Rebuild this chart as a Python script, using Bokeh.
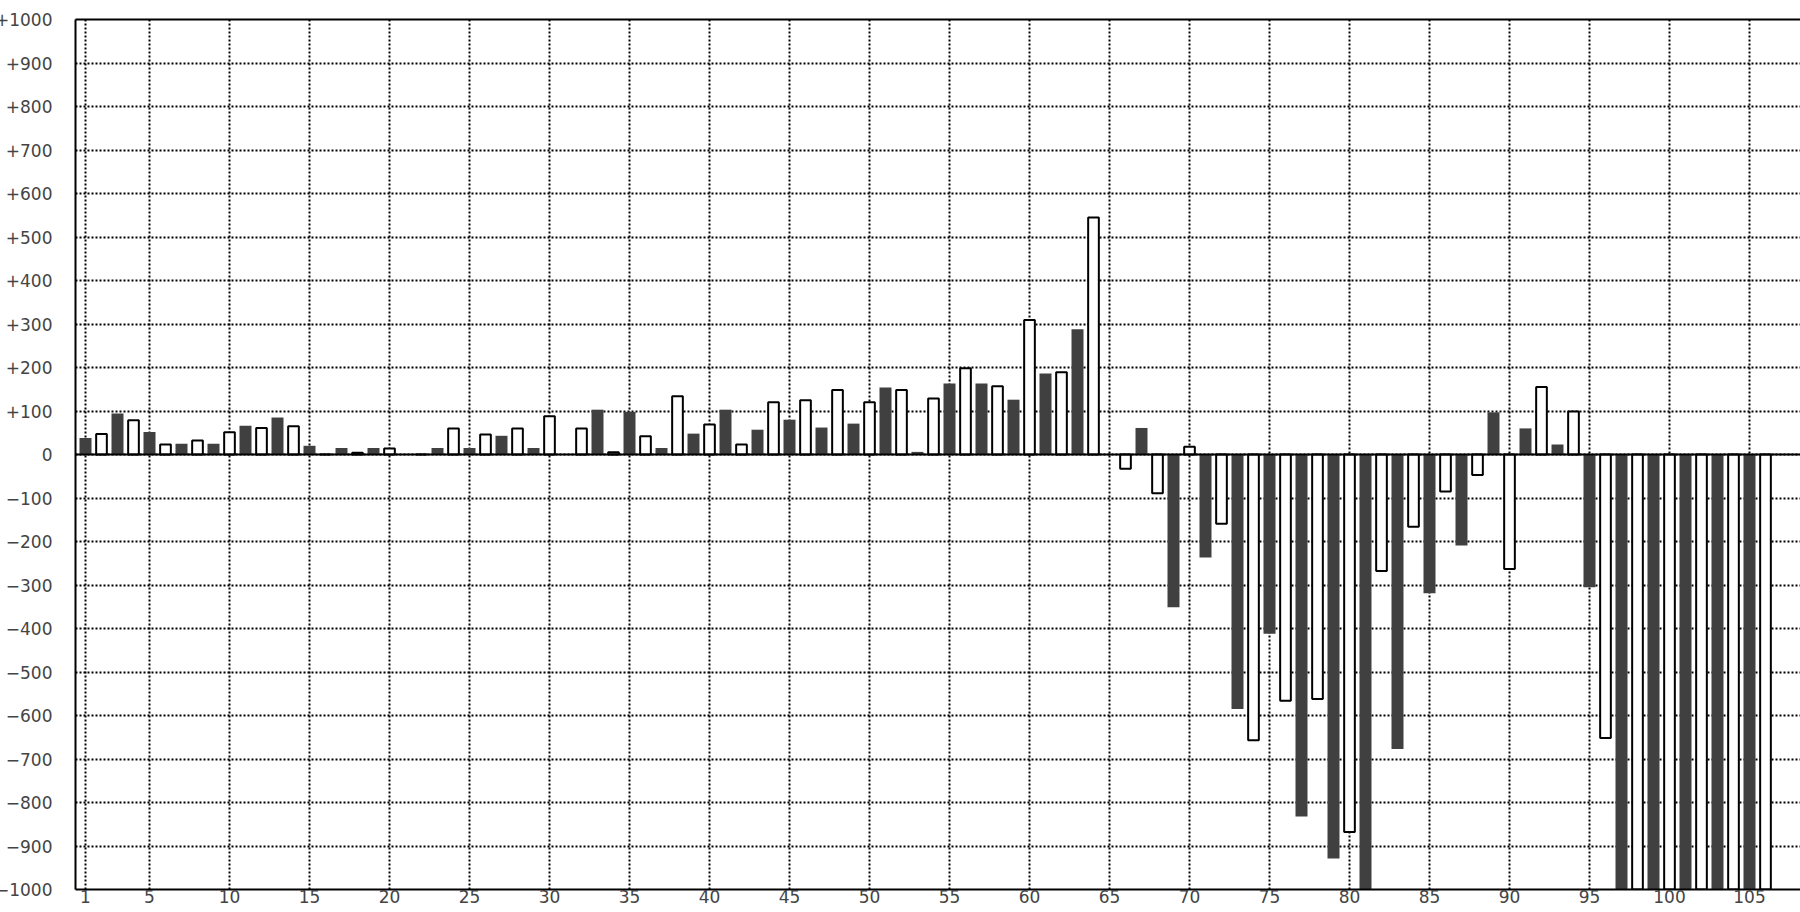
from bokeh.plotting import figure
from bokeh.models import FixedTicker, LinearAxis, Span, Range1d, ColumnDataSource
from bokeh.embed import file_html
from bokeh.resources import INLINE

# Values for the dark bars (positions 1, 3, 5, ... 105)
dark_values = [38, 94, 52, 25, 25, 66, 85, 20, 15, 15,
               0, 15, 15, 43, 15, 0, 103, 98, 15, 48,
               103, 57, 80, 62, 71, 154, 6, 163, 163, 126,
               186, 288, 0, 61, -351, -237, -585, -412, -832, -929,
               -1000, -677, -319, -209, 97, 60, 23, -305, -1000, -1000,
               -1000, -1000, -1000]
# Values for the white bars (positions 2, 4, 6, ... 106)
light_values = [47, 79, 23, 32, 51, 61, 65, 0, 4, 14,
                0, 60, 46, 60, 88, 60, 5, 42, 134, 69,
                23, 120, 125, 148, 120, 148, 129, 198, 157, 309,
                189, 545, -33, -89, 18, -159, -657, -566, -562, -868,
                -268, -166, -85, -47, -263, 155, 99, -652, -1000, -1000,
                -1000, -1000, -1000]

x_ticks = [1, 5, 10, 15, 20, 25, 30, 35, 40, 45, 50, 55, 60, 65, 70,
           75, 80, 85, 90, 95, 100, 105]
y_ticks = [-1000, -900, -800, -700, -600, -500, -400, -300, -200, -100, 0,
           100, 200, 300, 400, 500, 600, 700, 800, 900, 1000]


def fmt(v):
    if v > 0:
        return "+%d" % v
    if v < 0:
        return "\u2212%d" % (-v)
    return "0"


y_labels = {v: fmt(v) for v in y_ticks}

dark_x = [1 + 2 * i for i in range(len(dark_values))]
light_x = [2 + 2 * i for i in range(len(light_values))]

dark_src = ColumnDataSource(dict(x=dark_x, top=dark_values))
light_src = ColumnDataSource(dict(x=light_x, top=light_values))

# page layout: frame left at page x=75, x=1 at page x=85, 16 px per unit,
# frame right at the window's right edge (1800)
PX_PER_UNIT = 16.0
LEFT_BORDER = 90
SHIFT_LEFT = 75 - LEFT_BORDER          # negative margin
WIDTH = 1800 - SHIFT_LEFT
x_start = 1 - 10 / PX_PER_UNIT
x_end = 1 + (1800 - 85) / PX_PER_UNIT

p = figure(width=WIDTH, height=902,
           x_range=Range1d(x_start, x_end), y_range=Range1d(-1000, 1000),
           output_backend="svg", toolbar_location=None,
           min_border_left=LEFT_BORDER, min_border_top=11, min_border_right=0,
           min_border_bottom=21, margin=(8, 0, 0, SHIFT_LEFT))
p.outline_line_color = None
p.background_fill_color = "white"
p.border_fill_color = "white"

p.vbar(x="x", top="top", bottom=0, width=0.75, source=dark_src,
       fill_color="#404040", line_color=None)
p.vbar(x="x", top="top", bottom=0, width=0.667, source=light_src,
       fill_color="white", line_color="black", line_width=2)

p.xaxis.ticker = FixedTicker(ticks=x_ticks)
p.yaxis.ticker = FixedTicker(ticks=y_ticks)
p.yaxis.major_label_overrides = y_labels

for ax in (p.xaxis[0], p.yaxis[0]):
    ax.axis_line_color = "black"
    ax.axis_line_width = 2
    ax.major_tick_line_color = None
    ax.minor_tick_line_color = None
    ax.major_tick_out = 0
    ax.major_tick_in = 0
    ax.minor_tick_out = 0
    ax.minor_tick_in = 0
    ax.major_label_text_font = "DejaVu Sans"
    ax.major_label_text_font_size = "17px"
    ax.major_label_text_color = "#444444"

p.yaxis.major_label_standoff = 23
p.xaxis.major_label_standoff = 0

top_axis = LinearAxis(ticker=FixedTicker(ticks=[]), axis_line_color="black",
                      axis_line_width=2, major_tick_line_color=None,
                      minor_tick_line_color=None, major_tick_out=0,
                      major_tick_in=0, major_label_text_font_size="0px",
                      major_label_standoff=0)
p.add_layout(top_axis, "above")

p.xgrid.grid_line_color = "black"
p.xgrid.grid_line_dash = "2 2"
p.xgrid.grid_line_width = 2
p.ygrid.grid_line_color = "black"
p.ygrid.grid_line_dash = "2 2"
p.ygrid.grid_line_width = 2

p.add_layout(Span(location=0, dimension="width", line_color="black",
                  line_width=2))

open("out.html", "w").write(file_html(p, INLINE))
